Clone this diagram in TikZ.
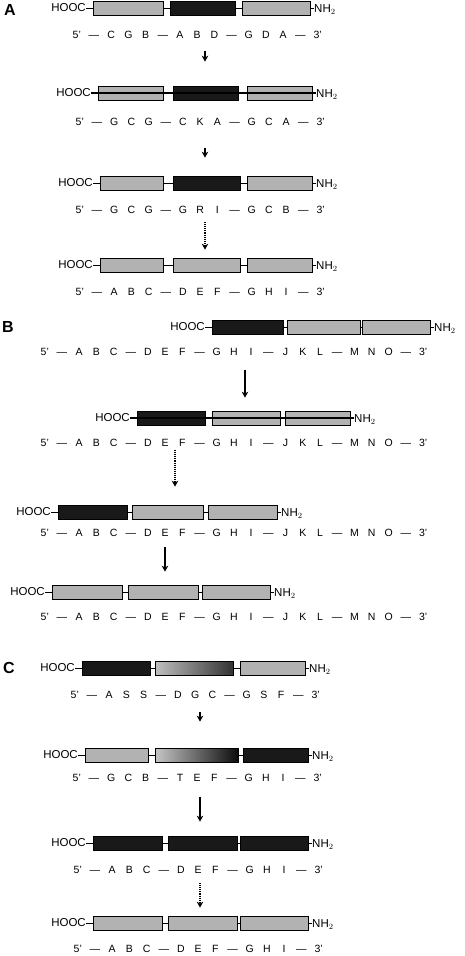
\documentclass[tikz,border=0pt]{standalone}
\usepackage{fontspec}
\setmainfont{Liberation Sans}
\usetikzlibrary{arrows.meta}
\tikzset{
  lab/.style={font=\fontsize{11.5}{13}\selectfont, inner sep=0pt},
  panel/.style={font=\fontsize{16}{18}\selectfont\bfseries, inner sep=0pt},
  seqt/.style={font=\fontsize{10.5}{12}\selectfont, inner sep=0pt, anchor=west},
  dom/.style={draw=black, line width=0.7pt, minimum height=14pt, inner sep=0pt},
  lt/.style={dom, fill=gray!60},
  dk/.style={dom, fill=black!90},
  mixa/.style={dom, left color=gray!50, right color=black!80},
  mixb/.style={dom, left color=gray!45, right color=black!95},
  conn/.style={line width=0.7pt},
  thru/.style={line width=1.3pt},
  arr/.style={line width=1.1pt, -{Stealth[length=6pt,width=6.5pt]}},
  darr/.style={arr, densely dotted},
  boxone/.style={lt}, boxtwo/.style={lt}, boxthree/.style={lt}
}
\newcommand\prow[8]{%
  \node[lab,anchor=east] (#1h) at (#3-7,#2) {HOOC};
  \node[boxone, minimum width={(#4-#3)*1pt}] (#1a) at ({(#3+#4)/2},#2) {};
  \node[boxtwo, minimum width={(#6-#5)*1pt}] (#1b) at ({(#5+#6)/2},#2) {};
  \node[boxthree, minimum width={(#8-#7)*1pt}] (#1c) at ({(#7+#8)/2},#2) {};
  \node[lab,anchor=west] (#1n) at (#8+4,#2+1.5) {NH$_2$};
  \draw[conn] (#1h) -- (#1a);
  \draw[conn] (#1a) -- (#1b);
  \draw[conn] (#1b) -- (#1c);
  \draw[conn] (#1c.east) -- (#1c.east -| #1n.west);
}
\newcommand\sqrow[4]{\node[seqt] (#1) at (#2-4,#3) {\foreach \t in {#4}{\makebox[17.2pt][c]{\t}}};}
\begin{document}
\begin{tikzpicture}[x=1pt,y=-1pt]
\useasboundingbox (0,0) rectangle (464,956);
% ---------- panel A
\node[panel] (pA) at (10,10) {A};
\tikzset{boxone/.style={lt}, boxtwo/.style={dk}, boxthree/.style={lt}}
\prow{A1}{8}{93}{163}{170}{235}{242}{310}
\sqrow{A1s}{72}{35}{5',—,C,G,B,—,A,B,D,—,G,D,A,—,3'}
\prow{A2}{93}{98}{163}{173}{238}{247}{312}
\draw[thru] (A2h.east) -- (A2c.east -| A2n.west);
\sqrow{A2s}{75}{122}{5',—,G,C,G,—,C,K,A,—,G,C,A,—,3'}
\prow{A3}{183}{100}{163}{173}{240}{247}{312}
\sqrow{A3s}{75}{210}{5',—,G,C,G,—,G,R,I,—,G,C,B,—,3'}
\tikzset{boxone/.style={lt}, boxtwo/.style={lt}, boxthree/.style={lt}}
\prow{A4}{265}{100}{163}{173}{240}{247}{312}
\sqrow{A4s}{75}{292}{5',—,A,B,C,—,D,E,F,—,G,H,I,—,3'}
\coordinate (xA) at (205,0);
\draw[arr, shorten <=12pt, shorten >=24pt] (A1s.south -| xA) -- (A2a.north -| xA);
\draw[arr, shorten <=22pt, shorten >=18pt] (A2s.south -| xA) -- (A3a.north -| xA);
\draw[darr, shorten <=8pt, shorten >=8pt] (A3s.south -| xA) -- (A4a.north -| xA);
% ---------- panel B
\node[panel] (pB) at (8,327) {B};
\tikzset{boxone/.style={dk}, boxtwo/.style={lt}, boxthree/.style={lt}}
\prow{B1}{327}{212}{283}{287}{360}{362}{430}
\sqrow{B1s}{40}{352}{5',—,A,B,C,—,D,E,F,—,G,H,I,—,J,K,L,—,M,N,O,—,3'}
\prow{B2}{418}{137}{205}{212}{280}{285}{350}
\draw[thru] (B2h.east) -- (B2c.east -| B2n.west);
\sqrow{B2s}{40}{443}{5',—,A,B,C,—,D,E,F,—,G,H,I,—,J,K,L,—,M,N,O,—,3'}
\prow{B3}{512}{58}{127}{132}{203}{208}{277}
\sqrow{B3s}{40}{533}{5',—,A,B,C,—,D,E,F,—,G,H,I,—,J,K,L,—,M,N,O,—,3'}
\tikzset{boxone/.style={lt}, boxtwo/.style={lt}, boxthree/.style={lt}}
\prow{B4}{592}{52}{122}{128}{198}{202}{270}
\sqrow{B4s}{40}{617}{5',—,A,B,C,—,D,E,F,—,G,H,I,—,J,K,L,—,M,N,O,—,3'}
\coordinate (xB1) at (245,0);
\coordinate (xB2) at (175,0);
\coordinate (xB3) at (165,0);
\draw[arr, shorten <=14pt, shorten >=13pt] (B1s.south -| xB1) -- (B2a.north -| xB1);
\draw[darr, shorten <=3pt, shorten >=18pt] (B2s.south -| xB2) -- (B3b.north -| xB2);
\draw[arr, shorten <=10pt, shorten >=13pt] (B3s.south -| xB3) -- (B4b.north -| xB3);
% ---------- panel C
\node[panel] (pC) at (9,668) {C};
\tikzset{boxone/.style={dk}, boxtwo/.style={mixa}, boxthree/.style={lt}}
\prow{C1}{668}{82}{150}{155}{233}{240}{305}
\sqrow{C1s}{70}{695}{5',—,A,S,S,—,D,G,C,—,G,S,F,—,3'}
\tikzset{boxone/.style={lt}, boxtwo/.style={mixb}, boxthree/.style={dk}}
\prow{C2}{755}{85}{148}{155}{238}{243}{308}
\sqrow{C2s}{72}{778}{5',—,G,C,B,—,T,E,F,—,G,H,I,—,3'}
\tikzset{boxone/.style={dk}, boxtwo/.style={dk}, boxthree/.style={dk}}
\prow{C3}{843}{93}{162}{168}{237}{240}{308}
\sqrow{C3s}{73}{870}{5',—,A,B,C,—,D,E,F,—,G,H,I,—,3'}
\tikzset{boxone/.style={lt}, boxtwo/.style={lt}, boxthree/.style={lt}}
\prow{C4}{923}{93}{162}{168}{237}{240}{308}
\sqrow{C4s}{73}{949}{5',—,A,B,C,—,D,E,F,—,G,H,I,—,3'}
\coordinate (xC) at (200,0);
\draw[arr, shorten <=13pt, shorten >=26pt] (C1s.south -| xC) -- (C2b.north -| xC);
\draw[arr, shorten <=15pt, shorten >=14pt] (C2s.south -| xC) -- (C3b.north -| xC);
\draw[darr, shorten <=9pt, shorten >=8pt] (C3s.south -| xC) -- (C4b.north -| xC);
\end{tikzpicture}
\end{document}
